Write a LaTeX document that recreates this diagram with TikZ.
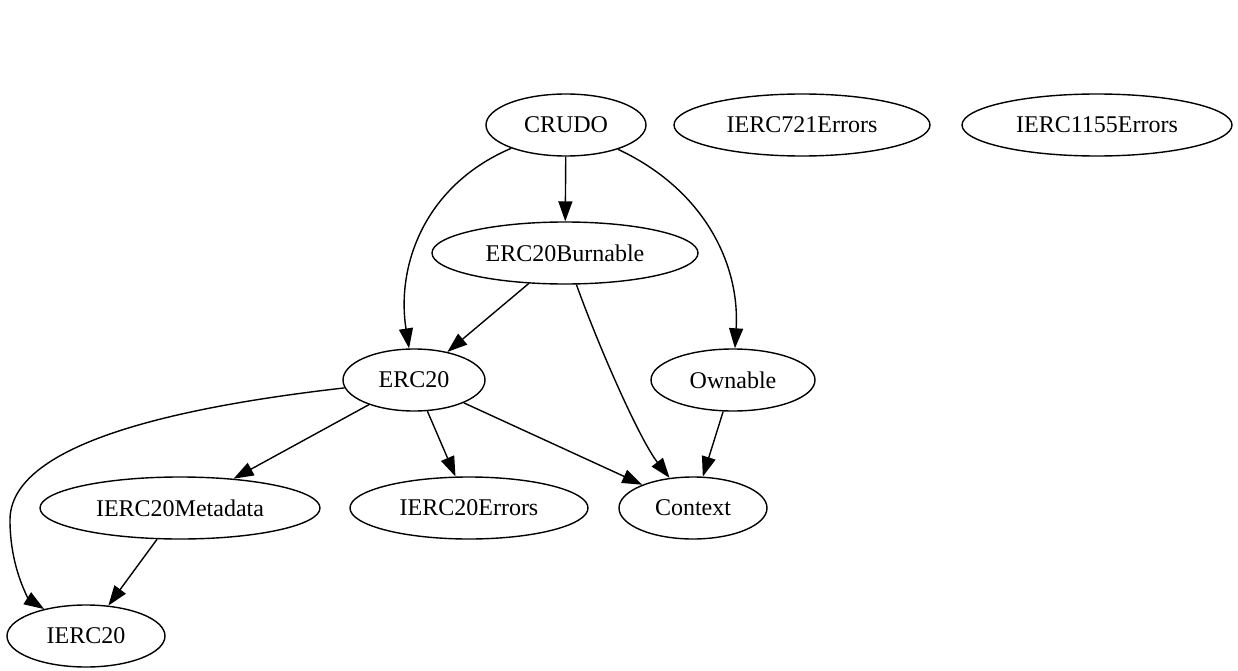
\documentclass[tikz,border=0pt]{standalone}
\usepackage{fontspec}
\setmainfont{Liberation Serif}
\usetikzlibrary{shapes.geometric,arrows.meta}
\begin{document}
\begin{tikzpicture}[x=1pt,y=-1pt,
  nd/.style={ellipse,draw,line width=1.4pt,inner sep=0pt,font=\fontsize{24}{28}\selectfont},
  arr/.style={line width=1.4pt,-{Triangle[length=20pt,width=14pt]}}]
\useasboundingbox (0,0) rectangle (1238,671);
\node[nd,minimum width=160,minimum height=62] (CRUDO) at (566,125) {CRUDO};
\node[nd,minimum width=256,minimum height=62] (I721) at (802,125) {IERC721Errors};
\node[nd,minimum width=270,minimum height=62] (I1155) at (1097,125) {IERC1155Errors};
\node[nd,minimum width=266,minimum height=62] (Burn) at (565,253) {ERC20Burnable};
\node[nd,minimum width=142,minimum height=62] (ERC20) at (414,380) {ERC20};
\node[nd,minimum width=164,minimum height=62] (Own) at (733,380) {Ownable};
\node[nd,minimum width=280,minimum height=62] (Meta) at (180,508) {IERC20Metadata};
\node[nd,minimum width=238,minimum height=62] (Err) at (469,508) {IERC20Errors};
\node[nd,minimum width=148,minimum height=62] (Ctx) at (693,508) {Context};
\node[nd,minimum width=158,minimum height=62] (IERC20) at (86,636) {IERC20};
\draw[arr] (CRUDO) -- (Burn);
\draw[arr] (CRUDO) .. controls (425,185) and (396,265) .. (ERC20);
\draw[arr] (CRUDO) .. controls (705,190) and (740,265) .. (Own);
\draw[arr] (Burn) -- (ERC20);
\draw[arr] (Burn) .. controls (600,350) and (640,440) .. (Ctx);
\draw[line width=1.4pt] (ERC20) .. controls (150,410) and (10,450) .. (10,520) coordinate (bend);
\draw[arr] (bend) .. controls (10,570) and (30,600) .. (IERC20);
\draw[arr] (ERC20) -- (Meta);
\draw[arr] (ERC20) -- (Err);
\draw[arr] (ERC20) -- (Ctx);
\draw[arr] (Own) -- (Ctx);
\draw[arr] (Meta) -- (IERC20);
\end{tikzpicture}
\end{document}
